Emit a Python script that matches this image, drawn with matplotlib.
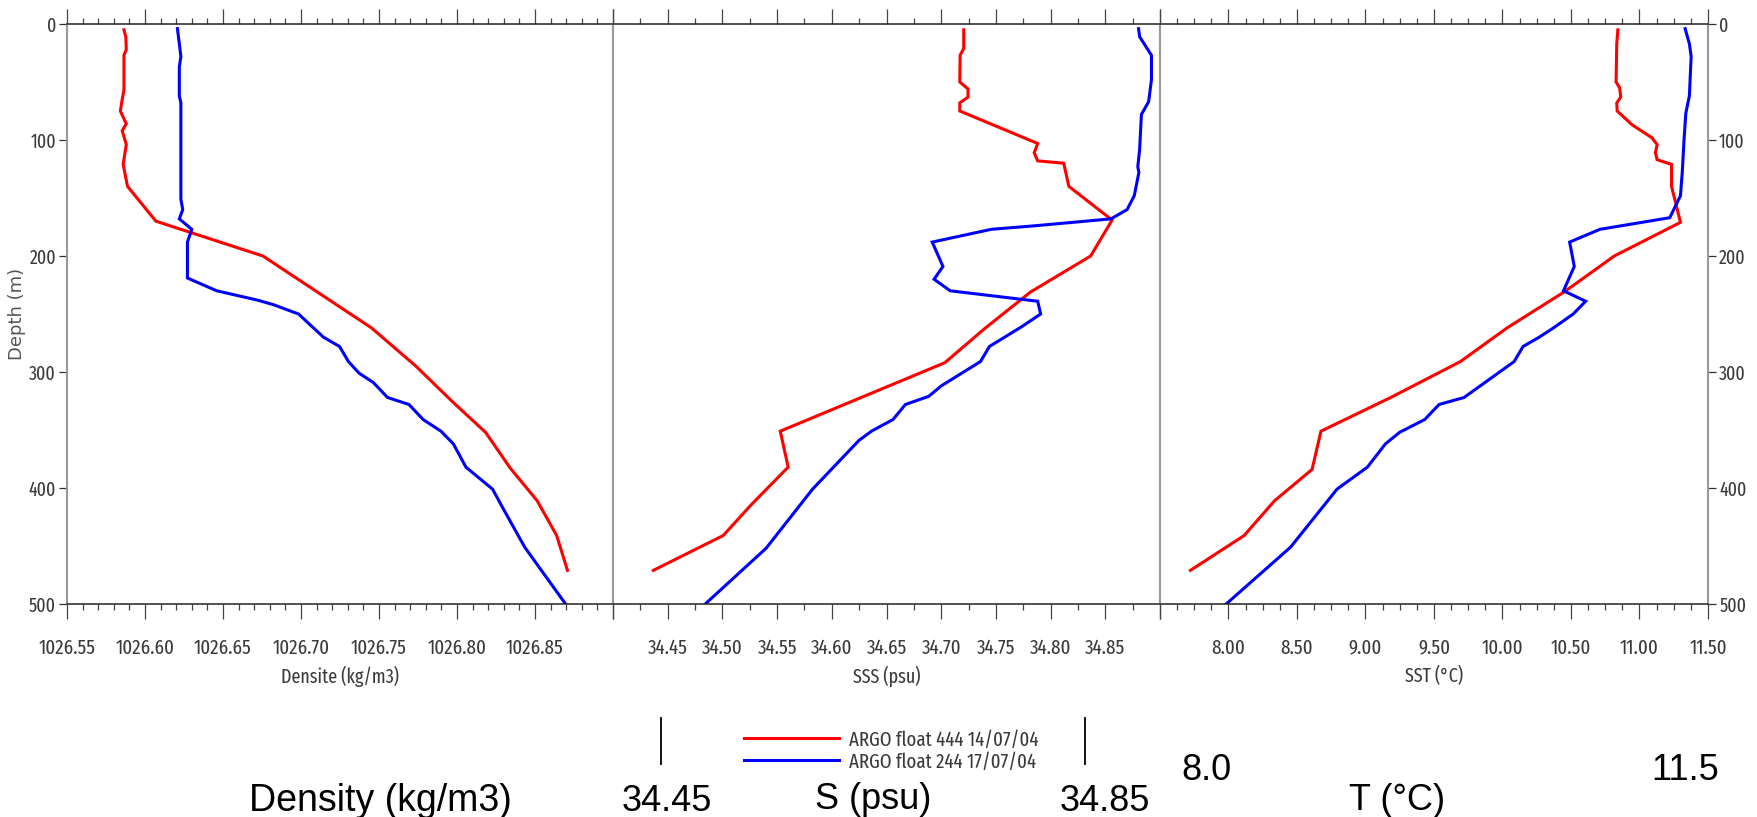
import matplotlib
matplotlib.use("Agg")
import matplotlib.pyplot as plt
from matplotlib import font_manager as fm
from matplotlib.ticker import MultipleLocator, FixedLocator, FixedFormatter
from matplotlib.lines import Line2D

# ---------------- data ----------------
dens_red_depth = [5, 11, 22, 27, 57, 65, 75, 86, 92, 104, 121, 140, 170, 200, 262, 295, 325, 352, 383, 411, 441, 471]
dens_red = [1026.5865, 1026.5877, 1026.5880, 1026.5865, 1026.5865, 1026.5854, 1026.5842, 1026.5880,
            1026.5854, 1026.5880, 1026.5860, 1026.5888, 1026.6070, 1026.6756, 1026.7452, 1026.7737,
            1026.7966, 1026.8183, 1026.8342, 1026.8514, 1026.8639, 1026.8708]

dens_blue_depth = [4, 28, 37, 62, 68, 151, 160, 168, 177, 188, 219, 230, 238, 242, 250, 270, 278, 291,
                   301, 309, 322, 328, 341, 351, 362, 382, 401, 418, 451, 500]
dens_blue = [1026.6208, 1026.6230, 1026.6220, 1026.6220, 1026.6230, 1026.6230, 1026.6242, 1026.6220,
             1026.6300, 1026.6272, 1026.6272, 1026.6460, 1026.6720, 1026.6824, 1026.6984, 1026.7144,
             1026.7247, 1026.7304, 1026.7372, 1026.7463, 1026.7555, 1026.7692, 1026.7783, 1026.7897,
             1026.7977, 1026.8057, 1026.8228, 1026.8297, 1026.8434, 1026.8696]

sss_red_depth = [5, 21, 27, 50, 56, 63, 68, 75, 103, 111, 118, 120, 140, 169, 200, 231, 263, 292, 351,
                 382, 414, 441, 471]
sss_red = [34.7206, 34.7206, 34.7173, 34.7170, 34.7245, 34.7245, 34.7170, 34.7170, 34.7882, 34.7850,
           34.7882, 34.8120, 34.8167, 34.8562, 34.8366, 34.7817, 34.7392, 34.7033, 34.5529, 34.5601,
           34.5268, 34.5007, 34.4369]

sss_blue_depth = [4, 11, 27, 48, 67, 78, 108, 123, 128, 148, 160, 168, 174, 177, 188, 209, 220, 230,
                  239, 250, 261, 278, 291, 312, 321, 328, 341, 351, 359, 401, 452, 500]
sss_blue = [34.8804, 34.8814, 34.8922, 34.8922, 34.8896, 34.8830, 34.8814, 34.8797, 34.8807, 34.8765,
            34.8699, 34.8552, 34.7850, 34.7458, 34.6918, 34.7016, 34.6935, 34.7082, 34.7882, 34.7909,
            34.7735, 34.7441, 34.7359, 34.7000, 34.6886, 34.6673, 34.6559, 34.6363, 34.6248, 34.5824,
            34.5399, 34.4843]

sst_red_depth = [5, 17, 50, 55, 63, 68, 75, 87, 98, 104, 111, 117, 121, 140, 171, 200, 231, 262, 291,
                 322, 351, 384, 411, 441, 471]
sst_red = [10.842, 10.834, 10.829, 10.855, 10.863, 10.834, 10.837, 10.947, 11.090, 11.129, 11.116,
           11.129, 11.234, 11.234, 11.299, 10.816, 10.450, 10.033, 9.693, 9.184, 8.675, 8.610, 8.336,
           8.114, 7.722]

sst_blue_depth = [4, 17, 28, 62, 77, 100, 128, 148, 167, 177, 188, 209, 230, 239, 250, 262, 270, 278,
                  291, 322, 328, 341, 352, 362, 382, 401, 451, 500]
sst_blue = [11.333, 11.364, 11.377, 11.364, 11.338, 11.325, 11.312, 11.299, 11.221, 10.711, 10.490,
            10.524, 10.445, 10.607, 10.516, 10.372, 10.268, 10.150, 10.085, 9.719, 9.537, 9.432, 9.249,
            9.145, 9.014, 8.792, 8.453, 7.983]

legend_labels = ["ARGO float 444 14/07/04", "ARGO float 244 17/07/04"]

dens_ticks = [1026.55, 1026.60, 1026.65, 1026.70, 1026.75, 1026.80, 1026.85]
sss_ticks = [34.45, 34.50, 34.55, 34.60, 34.65, 34.70, 34.75, 34.80, 34.85]
sst_ticks = [8.0, 8.5, 9.0, 9.5, 10.0, 10.5, 11.0, 11.5]
depth_ticks = [0, 100, 200, 300, 400, 500]

# ---------------- fonts ----------------
def has_font(name, stretch="normal"):
    try:
        p = fm.findfont(fm.FontProperties(family=name, stretch=stretch), fallback_to_default=False)
        return bool(p)
    except Exception:
        return False

NARROW, NSTRETCH = "DejaVu Sans", "normal"
for fam in ("Fira Sans Extra Condensed", "Barlow Condensed", "Roboto Condensed", "Archivo Narrow",
            "Liberation Sans Narrow"):
    if has_font(fam):
        NARROW = fam
        break
else:
    NARROW, NSTRETCH = "DejaVu Sans", "condensed"
ARIAL = "Liberation Sans" if has_font("Liberation Sans") else "DejaVu Sans"

W, H = 1758, 817
fig = plt.figure(figsize=(W / 100, H / 100), dpi=100)
fig.patch.set_facecolor("white")
renderer = fig.canvas.get_renderer()


def fit_size(sample, target_px, family=None, stretch=None, test=20.0):
    t = fig.text(0, 0, sample, fontsize=test, family=family or NARROW,
                 fontstretch=stretch or NSTRETCH)
    w = t.get_window_extent(renderer).width
    t.remove()
    return test * target_px / max(w, 1.0)


TICK_FS = min(fit_size("1026.55", 57), 15)
YTICK_FS = min(fit_size("100", 26), 15)
LAB_FS = min(fit_size("Densite (kg/m3)", 118), 16)
LEG_FS = min(fit_size(legend_labels[0], 190), 17)


def fx(px):
    return px / W


def fy(py):
    return 1 - py / H


top_px, bot_px = 24, 604
panels_px = [(67, 613), (613, 1160), (1160, 1708)]
axes = []
for (l, r) in panels_px:
    ax = fig.add_axes([fx(l), fy(bot_px), (r - l) / W, (bot_px - top_px) / H])
    axes.append(ax)

RED, BLUE = "#ff0000", "#0000ff"
LW = 2.2
TXT = "#3a3a3a"
TICKC = "#444444"

specs = [
    (axes[0], dens_red, dens_red_depth, dens_blue, dens_blue_depth, (1026.55, 1026.90), 0.05, 0.01,
     dens_ticks, ["%.2f" % v for v in dens_ticks], "Densite (kg/m3)"),
    (axes[1], sss_red, sss_red_depth, sss_blue, sss_blue_depth, (34.40, 34.90), 0.05, 0.025,
     sss_ticks, ["%.2f" % v for v in sss_ticks], "SSS (psu)"),
    (axes[2], sst_red, sst_red_depth, sst_blue, sst_blue_depth, (7.5, 11.5), 0.5, 0.125,
     sst_ticks, ["%.2f" % v for v in sst_ticks], "SST (°C)"),
]

lines_for_legend = None
for (ax, xr, dr, xb, db, xlim, maj, mnr, lt, ll, xlabel) in specs:
    lr, = ax.plot(xr, dr, color=RED, lw=LW, solid_joinstyle="miter")
    lb, = ax.plot(xb, db, color=BLUE, lw=LW, solid_joinstyle="miter")
    if lines_for_legend is None:
        lines_for_legend = [lr, lb]
    ax.set_xlim(*xlim)
    ax.set_ylim(500, 0)
    ax.xaxis.set_major_locator(MultipleLocator(maj))
    ax.xaxis.set_minor_locator(MultipleLocator(mnr))
    ax.tick_params(axis="x", which="both", top=True, bottom=True, direction="out",
                   color=TICKC, width=0.9, labeltop=False, labelbottom=False)
    ax.tick_params(axis="x", which="major", length=11)
    ax.tick_params(axis="x", which="minor", length=4.5)
    sec = ax.secondary_xaxis("bottom")
    sec.xaxis.set_major_locator(FixedLocator(lt))
    sec.xaxis.set_major_formatter(FixedFormatter(ll))
    sec.tick_params(axis="x", length=0, pad=24.5, labelsize=TICK_FS, labelcolor=TXT)
    for t in sec.get_xticklabels():
        t.set_fontfamily(NARROW)
        t.set_fontstretch(NSTRETCH)
    sec.spines["bottom"].set_visible(False)
    ax.set_xlabel(xlabel, fontsize=LAB_FS, color=TXT, fontfamily=NARROW, fontstretch=NSTRETCH)
    ax.xaxis.set_label_coords(0.5, -0.106)
    ax.yaxis.set_major_locator(FixedLocator(depth_ticks))
    ax.tick_params(axis="y", left=False, right=False, labelleft=False, labelright=False)
    for s in ("top", "bottom"):
        ax.spines[s].set_color("#222222")
        ax.spines[s].set_linewidth(1.1)
    for s in ("left", "right"):
        ax.spines[s].set_color("#999999")
        ax.spines[s].set_linewidth(1.5)

# depth axes
axes[0].tick_params(axis="y", left=True, labelleft=True, direction="out", length=6,
                    width=0.9, color="#333333", labelsize=YTICK_FS, labelcolor=TXT, pad=2)
axes[2].tick_params(axis="y", right=True, labelright=True, direction="out", length=6,
                    width=0.9, color="#333333", labelsize=YTICK_FS, labelcolor=TXT, pad=2)
for a in (axes[0], axes[2]):
    for t in a.get_yticklabels():
        t.set_fontfamily(NARROW)
        t.set_fontstretch(NSTRETCH)

fig.text(fx(17), fy(314), "Depth (m)", rotation=90, ha="center", va="center",
         fontsize=13, color="#555555", family="DejaVu Sans")

# legend
leg_px = LEG_FS * 100 / 72.0
fig.legend(lines_for_legend, legend_labels, loc="upper left",
           bbox_to_anchor=(fx(744), fy(730)), frameon=False, borderpad=0, borderaxespad=0,
           handlelength=95 / leg_px, handletextpad=10 / leg_px, labelspacing=0.12,
           prop={"family": NARROW, "stretch": NSTRETCH, "size": LEG_FS}, labelcolor=TXT)

# bottom annotations
BIG = 26
fig.text(fx(380), fy(811), "Density (kg/m3)", ha="center", va="baseline", fontsize=27, family=ARIAL, color="black")
fig.text(fx(667), fy(811), "34.45", ha="center", va="baseline", fontsize=BIG, family=ARIAL, color="black")
fig.text(fx(873), fy(809), "S (psu)", ha="center", va="baseline", fontsize=BIG, family=ARIAL, color="black")
fig.text(fx(1105), fy(811), "34.85", ha="center", va="baseline", fontsize=BIG, family=ARIAL, color="black")
fig.text(fx(1206), fy(780), "8.0", ha="center", va="baseline", fontsize=BIG, family=ARIAL, color="black")
fig.text(fx(1397), fy(810), "T (°C)", ha="center", va="baseline", fontsize=BIG, family=ARIAL, color="black")
fig.text(fx(1685), fy(780), "11.5", ha="center", va="baseline", fontsize=BIG, family=ARIAL, color="black")

for xp in (661, 1085):
    fig.add_artist(Line2D([fx(xp), fx(xp)], [fy(718), fy(764)], color="black", lw=1.3,
                          transform=fig.transFigure))

fig.savefig("out.png", dpi=100, facecolor="white")
